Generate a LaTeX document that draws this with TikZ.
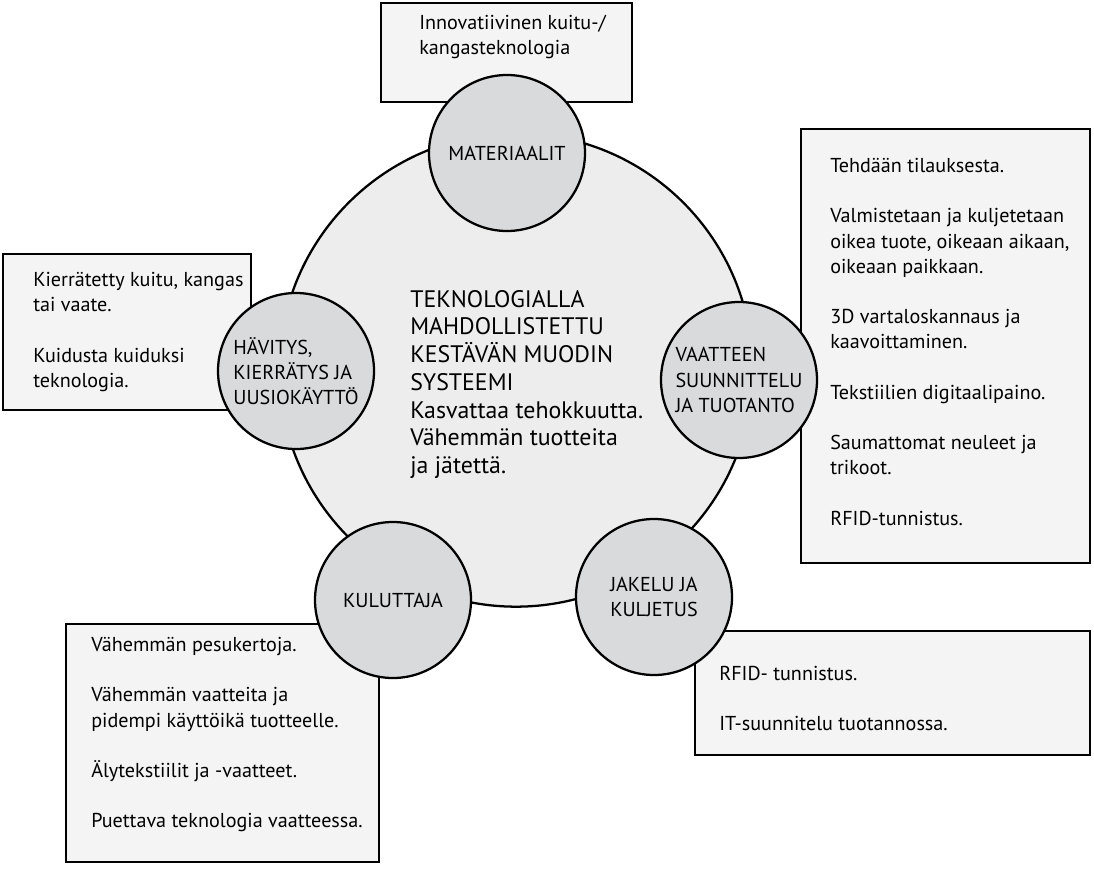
\documentclass[tikz,border=0pt]{standalone}
\usepackage{fontspec}
\setmainfont{PT Sans}
\usepackage{xcolor}
\definecolor{bigfill}{HTML}{EDEDED}
\definecolor{subfill}{HTML}{D9DADC}
\definecolor{boxfill}{HTML}{F4F4F4}

\begin{document}
\begin{tikzpicture}[x=0.75pt,y=-0.75pt,txt/.style={inner sep=0pt, anchor=north west, align=left, font=\fontsize{15.1}{18.9}\selectfont}]
\tikzstyle{box}=[draw, fill=boxfill, line width=1.7pt]
\tikzstyle{sub}=[circle, draw, fill=subfill, line width=1.7pt, minimum size=117pt, inner sep=0pt, align=left, font=\fontsize{15.1}{18.9}\selectfont]
\useasboundingbox (0,0) rectangle (1094,870);
% laatikot ensin, ympyrat niiden paalle
\draw[box] (381,3) rectangle (632,102);
\draw[box] (801,129) rectangle (1090,563);
\draw[box] (3,254) rectangle (251,410);
\draw[box] (66,624) rectangle (379,862);
\draw[box] (695,631) rectangle (1090,755);
\node[txt] (tmat) at (419,15) {Innovatiivinen kuitu-/\\kangasteknologia};
\node[txt] (tvaat) at (830,158) {Tehdään tilauksesta.\\[18.9pt]
  Valmistetaan ja kuljetetaan\\oikea tuote, oikeaan aikaan,\\oikeaan paikkaan.\\[18.9pt]
  3D vartaloskannaus ja\\kaavoittaminen.\\[18.9pt]
  Tekstiilien digitaalipaino.\\[18.9pt]
  Saumattomat neuleet ja\\trikoot.\\[18.9pt]
  RFID-tunnistus.};
\node[txt] (thav) at (33,272) {Kierrätetty kuitu, kangas\\tai vaate.\\[18.9pt]
  Kuidusta kuiduksi\\teknologia.};
\node[txt] (tkul) at (91,637) {Vähemmän pesukertoja.\\[18.9pt]
  Vähemmän vaatteita ja\\pidempi käyttöikä tuotteelle.\\[18.9pt]
  Älytekstiilit ja -vaatteet.\\[18.9pt]
  Puettava teknologia vaatteessa.};
\node[txt] (tjak) at (719,666) {RFID- tunnistus.\\[18.9pt]
  IT-suunnitelu tuotannossa.};
% keskimmainen ympyra
\node[circle, draw, fill=bigfill, line width=1.7pt, minimum size=355pt] (sys) at (516,370) {};
\node[txt, font=\fontsize{17.9}{20.8}\selectfont] (tsys) at (410,290) {TEKNOLOGIALLA\\MAHDOLLISTETTU\\KESTÄVÄN MUODIN\\SYSTEEMI\\Kasvattaa tehokkuutta.\\Vähemmän tuotteita\\ja jätettä.};
\node[sub] (mat) at (507,153) {MATERIAALIT};
\node[sub] (vaat) at (739,380) {VAATTEEN\\SUUNNITTELU\\JA TUOTANTO};
\node[sub] (jak) at (654,597) {JAKELU JA\\KULJETUS};
\node[sub] (kul) at (393,600) {KULUTTAJA};
\node[sub] (hav) at (296,371) {HÄVITYS,\\KIERRÄTYS JA\\UUSIOKÄYTTÖ};
\end{tikzpicture}
\end{document}
